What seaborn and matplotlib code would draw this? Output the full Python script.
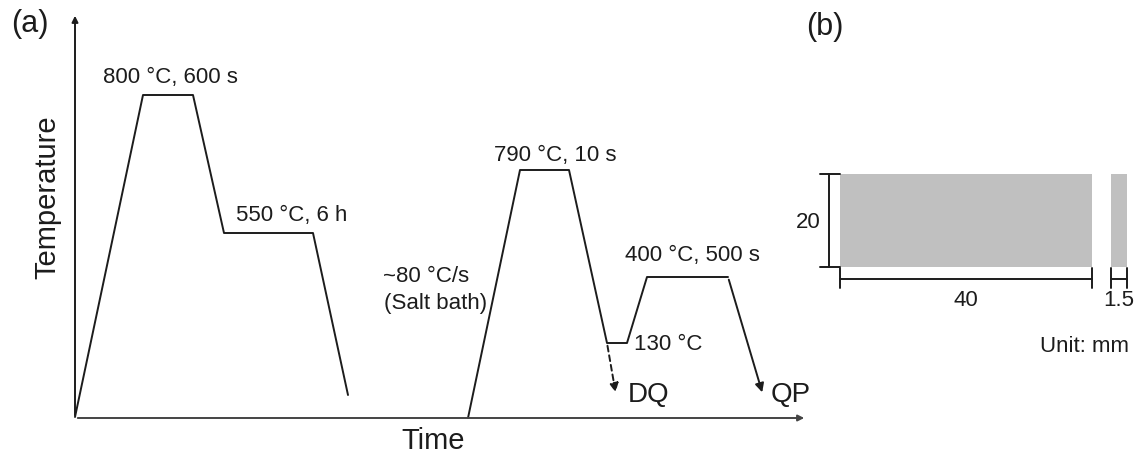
import matplotlib
matplotlib.use('Agg')
import matplotlib.pyplot as plt
import seaborn as sns
from matplotlib.patches import Rectangle

sns.set_theme(style='white')
plt.rcParams['font.family'] = ['Liberation Sans', 'DejaVu Sans']

# 열처리 스케줄 (가로: 시간, 세로: 온도) - 그림 좌표 기준 값
cycle1_t = [75, 143, 193, 224, 313, 348]
cycle1_T = [40, 362, 362, 224, 224, 62]
cycle2_t = [468, 520, 569, 607, 627, 647, 728]
cycle2_T = [39, 287, 287, 114, 114, 180, 180]
dq_t = [607, 616]
dq_T = [114, 62]
qp_t = [728, 763]
qp_T = [180, 62]

# 시편 치수 (mm) 및 도면 위치
spec_labels = ['40', '20', '1.5']
spec_face = [840, 190, 252, 93]   # x, y, w, h
spec_side = [1111, 190, 16, 93]

ink = '#1c1c1c'

fig = plt.figure(figsize=(11.4, 4.57), dpi=100)
ax = fig.add_axes([0, 0, 1, 1])
ax.set_xlim(0, 1140)
ax.set_ylim(0, 457)
ax.axis('off')

# 축
ax.annotate('', xy=(75, 444), xytext=(75, 39),
            arrowprops=dict(arrowstyle='-|>', lw=1.4, color=ink, mutation_scale=9))
ax.annotate('', xy=(807, 39), xytext=(75, 39),
            arrowprops=dict(arrowstyle='-|>', lw=1.4, color='#444444', mutation_scale=9))

# 스케줄 선
sns.lineplot(x=cycle1_t, y=cycle1_T, sort=False, estimator=None, color=ink, lw=1.4, ax=ax)
sns.lineplot(x=cycle2_t, y=cycle2_T, sort=False, estimator=None, color=ink, lw=1.4, ax=ax)
ax.annotate('', xy=(dq_t[1], dq_T[1]), xytext=(dq_t[0], dq_T[0]),
            arrowprops=dict(arrowstyle='-|>', lw=1.4, color=ink, ls=(0, (3, 2)), mutation_scale=13))
ax.annotate('', xy=(qp_t[1], qp_T[1]), xytext=(qp_t[0], qp_T[0]),
            arrowprops=dict(arrowstyle='-|>', lw=1.4, color=ink, mutation_scale=13))

fs = 16
ax.text(30, 433, '(a)', fontsize=22, ha='center', va='center', color=ink)
ax.text(47, 260, 'Temperature', fontsize=21, rotation=90, ha='center', va='center', color=ink)
ax.text(433, 16, 'Time', fontsize=21, ha='center', va='center', color=ink)
ax.text(170, 380, '800 °C, 600 s', fontsize=fs, ha='center', va='center', color=ink)
ax.text(292, 242, '550 °C, 6 h', fontsize=fs, ha='center', va='center', color=ink)
ax.text(555, 302, '790 °C, 10 s', fontsize=fs, ha='center', va='center', color=ink)
ax.text(692, 202, '400 °C, 500 s', fontsize=fs, ha='center', va='center', color=ink)
ax.text(426, 180, '~80 °C/s', fontsize=fs, ha='center', va='center', color=ink)
ax.text(436, 154, '(Salt bath)', fontsize=fs, ha='center', va='center', color=ink)
ax.text(634, 112, '130 °C', fontsize=fs, ha='left', va='center', color=ink)
ax.text(628, 62, 'DQ', fontsize=20, ha='left', va='center', color=ink)
ax.text(771, 62, 'QP', fontsize=20, ha='left', va='center', color=ink)

# (b) 시편 형상
ax.text(825, 430, '(b)', fontsize=22, ha='center', va='center', color=ink)
ax.add_patch(Rectangle(spec_face[:2], spec_face[2], spec_face[3], color='#c0c0c0', lw=0))
ax.add_patch(Rectangle(spec_side[:2], spec_side[2], spec_side[3], color='#c0c0c0', lw=0))

y0, y1 = spec_face[1], spec_face[1] + spec_face[3]
x0, x1 = spec_face[0], spec_face[0] + spec_face[2]
s0, s1 = spec_side[0], spec_side[0] + spec_side[2]
dim = dict(color=ink, lw=1.4)
# 세로 치수선
ax.plot([829, 829], [y0, y1], **dim)
ax.plot([820, 840], [y0, y0], **dim)
ax.plot([820, 840], [y1, y1], **dim)
# 가로 치수선
ax.plot([x0, x1], [178, 178], **dim)
ax.plot([x0, x0], [169, 189], **dim)
ax.plot([x1, x1], [169, 189], **dim)
ax.plot([s0, s1], [178, 178], **dim)
ax.plot([s0, s0], [169, 189], **dim)
ax.plot([s1, s1], [169, 189], **dim)

ax.text(808, 234, spec_labels[1], fontsize=fs, ha='center', va='center', color=ink)
ax.text((x0 + x1) / 2, 157, spec_labels[0], fontsize=fs, ha='center', va='center', color=ink)
ax.text((s0 + s1) / 2, 157, spec_labels[2], fontsize=fs, ha='center', va='center', color=ink)
ax.text(1085, 110, 'Unit: mm', fontsize=fs, ha='center', va='center', color=ink)

fig.savefig('out.png', dpi=100)
